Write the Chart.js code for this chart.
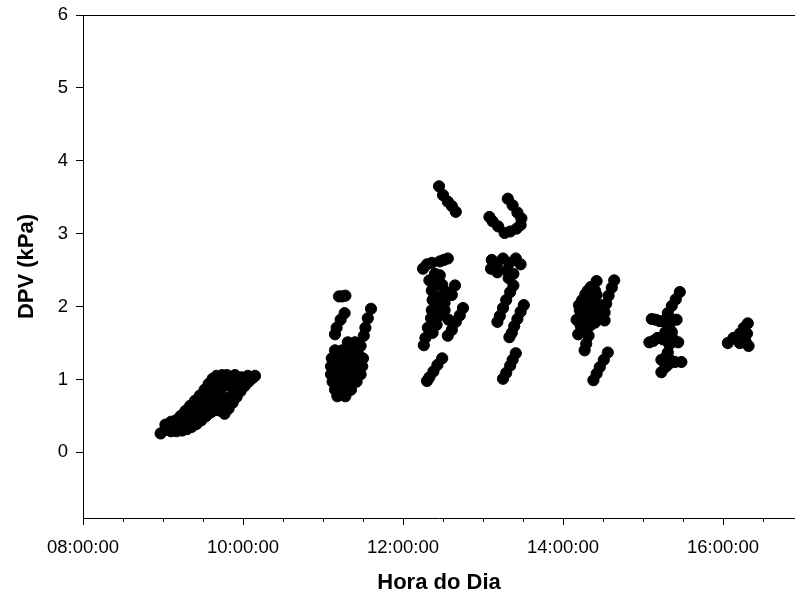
<!DOCTYPE html>
<html>
<head>
<meta charset="utf-8">
<script src="https://cdn.jsdelivr.net/npm/chart.js@4.4.1/dist/chart.umd.min.js"></script>
<style>
  html, body { margin: 0; padding: 0; background: #fff; }
</style>
</head>
<body>
<canvas id="chart" width="795" height="604"></canvas>
<script>
// [hora do dia (h decimal), DPV (kPa)], one array per sampling window
const coleta09h = [
  [8.97,0.26],[9.03,0.31],[9.09,0.35],[9.15,0.38],[9.21,0.42],[9.27,0.47],[9.33,0.53],[9.39,0.60],
  [9.45,0.67],[9.51,0.74],[9.57,0.82],[9.62,0.90],[9.67,0.97],[9.72,1.02],
  [9.03,0.38],[9.10,0.42],[9.16,0.44],[9.22,0.50],[9.28,0.57],[9.34,0.64],[9.40,0.71],[9.46,0.78],
  [9.52,0.86],[9.57,0.94],[9.62,1.01],[9.67,1.05],[9.74,1.06],
  [9.10,0.29],[9.17,0.29],[9.24,0.30],[9.30,0.32],[9.36,0.35],[9.42,0.39],[9.48,0.44],[9.54,0.50],
  [9.60,0.55],[9.66,0.58],[9.72,0.57],
  [9.15,0.34],[9.25,0.38],[9.33,0.43],[9.40,0.50],[9.47,0.58],[9.55,0.64],[9.62,0.70],
  [9.45,0.52],[9.52,0.60],[9.58,0.68],[9.64,0.75],[9.70,0.82],[9.75,0.90],[9.70,0.68],[9.76,0.75],[9.80,0.95],
  [9.78,0.65],[9.83,0.75],[9.88,0.82],[9.75,0.98],[9.80,1.01],
  [9.77,0.53],[9.82,0.60],[9.87,0.68],[9.92,0.76],[9.97,0.84],[10.02,0.91],[10.07,0.97],[10.12,1.02],
  [10.15,1.05],[10.06,1.05],[9.98,1.03],[9.92,0.97],[9.86,0.90],[9.84,1.02],[9.90,1.06],[9.80,1.06]
];
const coleta11h = [
  [11.20,2.14],[11.24,2.14],[11.28,2.15],
  [11.27,1.91],[11.22,1.82],[11.17,1.71],[11.15,1.62],
  [11.60,1.97],[11.56,1.84],[11.53,1.71],[11.51,1.60],[11.47,1.46],[11.45,1.33],
  [11.31,1.51],[11.40,1.51],
  [11.15,1.40],[11.24,1.40],[11.33,1.40],[11.43,1.40],
  [11.11,1.29],[11.21,1.29],[11.31,1.29],[11.41,1.29],[11.50,1.29],
  [11.10,1.18],[11.20,1.18],[11.30,1.18],[11.40,1.18],[11.49,1.18],
  [11.10,1.07],[11.20,1.07],[11.30,1.07],[11.40,1.07],[11.47,1.07],
  [11.12,0.97],[11.22,0.97],[11.32,0.97],[11.42,0.97],
  [11.15,0.86],[11.25,0.86],[11.35,0.86],
  [11.18,0.77],[11.28,0.77]
];
const coleta12h = [
  [12.45,3.65],[12.50,3.53],[12.56,3.44],[12.61,3.38],[12.66,3.30],
  [12.25,2.52],[12.30,2.58],[12.36,2.60],[12.46,2.62],[12.56,2.66],[12.51,2.64],
  [12.33,2.36],[12.36,2.22],[12.37,2.09],[12.36,1.95],[12.35,1.84],[12.31,1.71],[12.28,1.57],[12.26,1.47],
  [12.46,2.43],[12.49,2.30],[12.49,2.16],[12.46,2.02],[12.46,1.88],[12.42,1.75],[12.37,1.64],
  [12.40,2.45],[12.42,2.30],[12.42,2.10],[12.40,1.95],[12.54,2.20],[12.52,2.05],
  [12.40,1.82],[12.44,1.95],[12.38,2.30],
  [12.65,2.29],[12.61,2.16],[12.75,1.98],[12.71,1.88],[12.66,1.79],[12.61,1.68],[12.56,1.60],[12.57,1.82],[12.52,1.95],
  [12.49,1.29],[12.43,1.20],[12.38,1.11],[12.33,1.03],[12.30,0.98]
];
const coleta13h = [
  [13.31,3.48],[13.37,3.39],[13.43,3.29],[13.48,3.21],[13.47,3.12],[13.42,3.07],[13.34,3.03],[13.27,3.01],
  [13.19,3.10],[13.12,3.17],[13.08,3.23],
  [13.11,2.64],[13.17,2.57],[13.25,2.66],[13.33,2.60],[13.41,2.66],[13.47,2.58],[13.18,2.47],[13.10,2.52],
  [13.30,2.50],[13.38,2.45],[13.32,2.39],
  [13.38,2.29],[13.34,2.20],[13.29,2.09],[13.25,1.98],[13.21,1.87],[13.18,1.79],
  [13.51,2.02],[13.47,1.93],[13.43,1.83],[13.39,1.73],[13.36,1.64],[13.33,1.58],
  [13.41,1.36],[13.37,1.27],[13.34,1.19],[13.29,1.09],[13.25,1.01]
];
const coleta14h = [
  [14.42,2.35],[14.35,2.27],[14.28,2.17],
  [14.64,2.36],[14.61,2.26],[14.57,2.15],[14.54,2.04],[14.52,1.92],
  [14.24,2.09],[14.21,1.95],[14.17,1.82],[14.19,1.62],
  [14.34,2.09],[14.42,2.16],[14.46,2.02],[14.36,1.92],[14.27,1.84],[14.44,1.84],[14.34,1.74],
  [14.26,1.70],[14.52,1.81],[14.28,2.00],[14.40,2.22],[14.22,1.74],[14.31,2.22],
  [14.38,2.02],[14.48,1.92],[14.40,1.78],[14.30,1.90],[14.20,2.02],
  [14.32,1.60],[14.29,1.49],[14.27,1.40],
  [14.56,1.37],[14.51,1.27],[14.46,1.17],[14.42,1.08],[14.38,0.99]
];
const coleta15h = [
  [15.46,2.20],[15.41,2.10],[15.36,2.01],[15.31,1.91],
  [15.11,1.83],[15.21,1.80],[15.31,1.82],[15.42,1.82],[15.16,1.82],[15.26,1.80],[15.37,1.82],
  [15.33,1.71],[15.31,1.60],[15.33,1.48],[15.31,1.37],[15.36,1.65],[15.28,1.65],
  [15.08,1.51],[15.18,1.57],[15.25,1.55],[15.44,1.51],[15.38,1.55],[15.13,1.53],
  [15.23,1.10],[15.28,1.17],[15.31,1.20],[15.40,1.24],[15.48,1.24],[15.23,1.27],[15.28,1.30],[15.35,1.26]
];
const coleta16h = [
  [16.31,1.77],[16.26,1.71],[16.21,1.63],[16.13,1.57],[16.06,1.50],
  [16.30,1.63],[16.28,1.53],[16.32,1.46],[16.21,1.50]
];

const xLabelHours = [8, 10, 12, 14, 16];
const xMinorHours = [8.5, 9, 9.5, 10.5, 11, 11.5, 12.5, 13, 13.5, 14.5, 15, 15.5, 16.5];
const yTicks = [0, 1, 2, 3, 4, 5, 6];

const allPoints = [coleta09h, coleta11h, coleta12h, coleta13h, coleta14h, coleta15h, coleta16h]
  .flat()
  .map(([h, v]) => ({ x: h, y: v }));

function fmtHora(h) {
  const hh = String(Math.floor(h)).padStart(2, '0');
  return `${hh}:00:00`;
}

// top frame line + short minor ticks on the time axis
const framePlugin = {
  id: 'frame',
  afterDraw(chart) {
    const { ctx, chartArea: { left, right, top, bottom }, scales: { x } } = chart;
    ctx.save();
    ctx.strokeStyle = '#000';
    ctx.lineWidth = 1;
    ctx.beginPath();
    ctx.moveTo(left, top + 0.5);
    ctx.lineTo(right, top + 0.5);
    xMinorHours.forEach(h => {
      const px = Math.round(x.getPixelForValue(h)) + 0.5;
      ctx.moveTo(px, bottom);
      ctx.lineTo(px, bottom + 4);
    });
    ctx.stroke();
    ctx.restore();
  }
};

const font = { family: "'Liberation Sans', Arial, sans-serif", size: 18.5 };
const titleFont = { family: "'Liberation Sans', Arial, sans-serif", size: 22, weight: 'bold' };

new Chart(document.getElementById('chart'), {
  type: 'scatter',
  data: {
    datasets: [{
      data: allPoints,
      backgroundColor: '#000',
      borderColor: '#000',
      borderWidth: 1,
      pointRadius: 5.6,
      pointHoverRadius: 5.6
    }]
  },
  options: {
    responsive: false,
    devicePixelRatio: 1,
    animation: false,
    layout: { autoPadding: false, padding: { top: 15, right: 0, bottom: 0, left: 0 } },
    plugins: {
      legend: { display: false },
      tooltip: { enabled: false }
    },
    scales: {
      x: {
        type: 'linear',
        min: 8,
        max: 16.9,
        afterBuildTicks: scale => { scale.ticks = xLabelHours.map(v => ({ value: v })); },
        afterFit: scale => {
          scale.height = 86;
          scale.paddingLeft = 0;
          scale.paddingRight = 0;
        },
        border: { color: '#000', width: 1 },
        grid: { drawOnChartArea: false, tickColor: '#000', tickLength: 7 },
        ticks: {
          color: '#000',
          font: font,
          padding: 12,
          maxRotation: 0,
          autoSkip: false,
          callback: v => fmtHora(v)
        },
        title: {
          display: true,
          text: 'Hora do Dia',
          color: '#000',
          font: titleFont,
          padding: { top: 0, bottom: 8 }
        }
      },
      y: {
        min: -0.9,
        max: 6,
        afterBuildTicks: scale => { scale.ticks = yTicks.map(v => ({ value: v })); },
        afterFit: scale => {
          scale.width = 83;
          scale.paddingTop = 0;
          scale.paddingBottom = 0;
        },
        border: { color: '#000', width: 1 },
        grid: { drawOnChartArea: false, tickColor: '#000', tickLength: 7 },
        ticks: {
          color: '#000',
          font: font,
          padding: 8,
          callback: v => String(v)
        },
        title: {
          display: true,
          text: 'DPV (kPa)',
          color: '#000',
          font: titleFont,
          padding: { top: 14, bottom: 0 }
        }
      }
    }
  },
  plugins: [framePlugin]
});
</script>
</body>
</html>
